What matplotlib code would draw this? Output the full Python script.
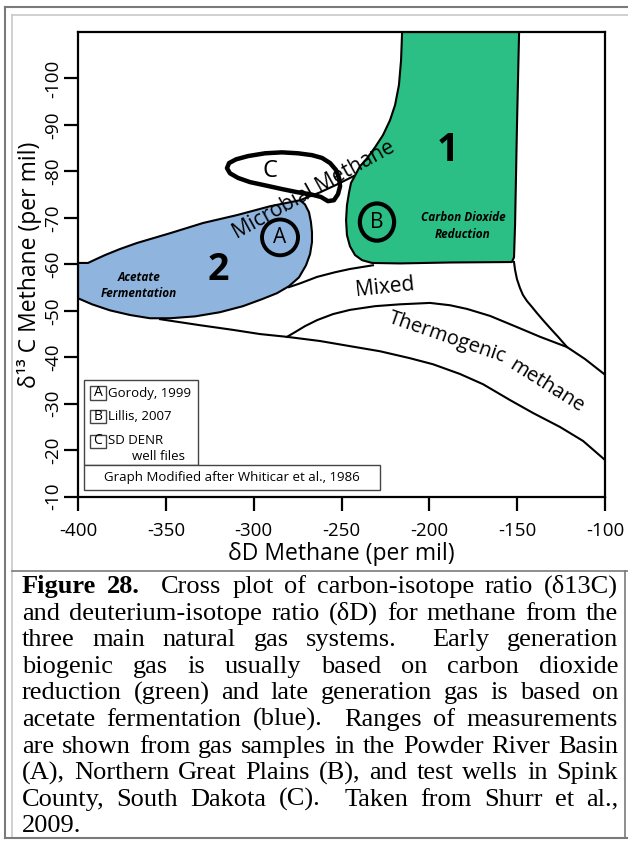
import matplotlib
matplotlib.use('Agg')
import matplotlib.pyplot as plt
from matplotlib.patches import Polygon, Ellipse, Rectangle
from matplotlib.lines import Line2D

plt.rcParams['font.family'] = ['Open Sans', 'DejaVu Sans']
plt.rcParams['axes.unicode_minus'] = False

W, H = 628, 842

# axis ticks (per mil)
DD_TICKS = [-400, -350, -300, -250, -200, -150, -100]
C13_TICKS = [-10, -20, -30, -40, -50, -60, -70, -80, -90, -100]

# field outlines, (dD, d13C) pairs
CO2_DD = [-215.5, -216.1, -217.3, -219.5, -222.4, -226.4, -230.9, -235.5, -239.5, -242.3,
          -244.6, -245.7, -246.9, -247.4, -246.9, -245.2, -242.3, -238.3, -232.6, -216.7,
          -188.2, -153.0, -151.8, -151.2, -150.1, -148.9]
CO2_C13 = [-110.0, -103.9, -98.6, -94.3, -91.0, -87.8, -85.2, -82.8, -81.1, -79.1,
           -77.5, -75.5, -72.7, -69.5, -66.3, -63.9, -62.0, -60.9, -60.3, -60.2,
           -60.4, -60.5, -61.5, -68.5, -90.0, -110.0]

ACET_DD = [-400.0, -394.3, -389.8, -384.6, -376.1, -366.4, -347.6, -328.8, -309.5, -290.7,
           -273.6, -270.8, -268.5, -267.4, -266.8, -266.8, -267.9, -270.2, -274.2, -279.9,
           -286.7, -295.3, -306.1, -319.2, -333.4, -347.6, -359.0, -370.4, -381.8, -392.0]
ACET_C13 = [-60.3, -60.3, -61.1, -62.0, -63.3, -64.6, -66.7, -68.9, -70.6, -72.5,
            -73.8, -72.9, -71.2, -69.1, -66.9, -64.8, -62.2, -59.8, -57.2, -55.3,
            -53.8, -52.5, -51.0, -49.7, -48.8, -48.4, -48.4, -49.1, -50.1, -51.4]
ACET_DD.append(-400.0)
ACET_C13.append(-52.7)

MICROBIAL_DD = [-273.6, -262.2, -252.5, -243.0]
MICROBIAL_C13 = [-73.8, -75.5, -77.2, -79.0]

MIXED_TOP_DD = [-279.9, -273.6, -263.9, -253.7, -245.2, -232.1]
MIXED_TOP_C13 = [-55.1, -55.9, -57.3, -58.3, -59.0, -59.8]

THERMO_LOW_DD = [-353.3, -330.5, -311.8, -296.4, -281.0, -262.2, -245.2, -228.1, -211.0,
                 -197.9, -182.5, -169.4, -154.1, -140.9, -125.6, -112.5, -100.0]
THERMO_LOW_C13 = [-48.2, -46.9, -45.9, -45.0, -44.4, -43.5, -42.4, -41.3, -39.8,
                  -38.5, -36.4, -34.2, -30.8, -28.0, -25.0, -22.0, -17.9]

THERMO_UP_DD = [-281.0, -276.5, -270.8, -263.9, -254.8, -245.2, -230.9, -216.7, -199.6,
                -188.2, -178.5, -165.4, -150.1, -136.9, -121.6, -111.3, -100.5]
THERMO_UP_C13 = [-44.4, -45.4, -46.7, -48.0, -49.3, -50.2, -51.0, -51.4, -51.7,
                 -51.2, -50.4, -48.9, -46.5, -44.4, -42.2, -39.6, -36.4]

RIGHT_DD = [-151.8, -151.2, -150.1, -148.4, -146.7, -144.4, -141.5, -138.7, -135.3,
            -131.3, -126.7, -121.6]
RIGHT_C13 = [-60.5, -58.8, -56.8, -54.9, -53.4, -52.1, -50.8, -49.5, -48.0,
             -46.3, -44.4, -42.2]

# range of SD DENR well samples (C)
WELLS_DD = [-315.2, -314.0, -310.0, -303.2, -293.5, -283.9, -274.8, -266.8, -261.1, -256.5,
            -253.1, -251.4, -250.8, -252.0, -254.3, -257.7, -261.7, -267.9, -274.8, -283.9,
            -293.5, -302.1, -308.9, -313.5]
WELLS_C13 = [-80.7, -81.8, -82.6, -83.3, -83.9, -84.1, -83.9, -83.5, -82.9, -81.8,
             -80.3, -78.6, -76.8, -75.1, -73.8, -73.6, -74.5, -75.1, -75.5, -76.2,
             -77.0, -77.7, -78.6, -79.6]

# data ranges A (Gorody) and B (Lillis): centre dD, centre d13C
RANGE_A = (-285.0, -65.8)
RANGE_B = (-229.8, -69.1)

LEGEND = [('A', 'Gorody, 1999'), ('B', 'Lillis, 2007'), ('C', 'SD DENR')]

CAPTION = [
    'Figure 28.  Cross plot of carbon-isotope ratio (δ13C)',
    'and deuterium-isotope ratio (δD) for methane from the',
    'three main natural gas systems.  Early generation',
    'biogenic gas is usually based on carbon dioxide',
    'reduction (green) and late generation gas is based on',
    'acetate fermentation (blue).  Ranges of measurements',
    'are shown from gas samples in the Powder River Basin',
    '(A), Northern Great Plains (B), and test wells in Spink',
    'County, South Dakota (C).  Taken from Shurr et al.,',
    '2009.',
]

GREEN = '#2bbe85'
BLUE = '#8fb4dd'


def fx(px):
    return px / W


def fy(py):
    return 1 - py / H


fig = plt.figure(figsize=(W / 100, H / 100), dpi=100)
ax = fig.add_axes([fx(78), fy(496.7), 527 / W, 464.7 / H])
ax.set_xlim(-400, -100)
ax.set_ylim(-10, -110)

ax.add_patch(Polygon(list(zip(CO2_DD, CO2_C13)), closed=True, fc=GREEN, ec='black',
                     lw=1.5, joinstyle='round', zorder=1))
ax.add_patch(Polygon(list(zip(ACET_DD, ACET_C13)), closed=True, fc=BLUE, ec='black',
                     lw=1.5, joinstyle='round', zorder=1))
for xs, ys in [(MICROBIAL_DD, MICROBIAL_C13), (MIXED_TOP_DD, MIXED_TOP_C13),
               (THERMO_LOW_DD, THERMO_LOW_C13), (THERMO_UP_DD, THERMO_UP_C13),
               (RIGHT_DD, RIGHT_C13)]:
    ax.plot(xs, ys, color='black', lw=1.5, solid_joinstyle='round', zorder=2)

ax.add_patch(Polygon(list(zip(WELLS_DD, WELLS_C13)), closed=True, fc='none', ec='black',
                     lw=3.2, joinstyle='round', zorder=3))
ax.add_patch(Ellipse(RANGE_A, 20.5, 7.7, fc='none', ec='black', lw=2.8, zorder=3))
ax.add_patch(Ellipse(RANGE_B, 19.5, 8.0, fc='none', ec='black', lw=3.0, zorder=3))
ax.text(RANGE_A[0], RANGE_A[1], 'A', fontsize=15, ha='center', va='center', zorder=4)
ax.text(RANGE_B[0], RANGE_B[1], 'B', fontsize=15, ha='center', va='center', zorder=4)
ax.text(-290.5, -80.0, 'C', fontsize=17, ha='center', va='center', zorder=4)

ax.text(-189.3, -84.5, '1', fontsize=28, fontweight='bold', ha='center', va='center')
ax.text(-320.3, -58.7, '2', fontsize=27, fontweight='bold', ha='center', va='center')
ax.text(-365.3, -55.5, 'Acetate\nFermentation', fontsize=8.5, fontweight='bold',
        style='italic', ha='center', va='center', linespacing=1.35)
ax.text(-180.8, -68.2, 'Carbon Dioxide\nReduction', fontsize=8.5, fontweight='bold',
        style='italic', ha='center', va='center', linespacing=1.35)
ax.text(-265.5, -76.0, 'Microbial Methane', fontsize=15, rotation=29,
        rotation_mode='anchor', ha='center', va='center', zorder=2)
ax.text(-225.2, -55.0, 'Mixed', fontsize=15, rotation=6,
        rotation_mode='anchor', ha='center', va='center')
ax.text(-190.0, -44.3, 'Thermogenic', fontsize=14.5, rotation=-19,
        rotation_mode='anchor', ha='center', va='center')
ax.text(-133.0, -33.9, 'methane', fontsize=14.5, rotation=-32,
        rotation_mode='anchor', ha='center', va='center')

for side in ax.spines.values():
    side.set_linewidth(1.6)
ax.set_xticks(DD_TICKS)
ax.set_xticklabels([str(v) for v in DD_TICKS])
ax.set_yticks(C13_TICKS)
ax.set_yticklabels([str(v) for v in C13_TICKS])
ax.tick_params(axis='both', direction='out', length=10, width=1.6, labelsize=13.5)
ax.tick_params(axis='x', pad=8)
ax.tick_params(axis='y', pad=1, labelrotation=90)
for lab in ax.get_yticklabels():
    lab.set_va('center')
ax.set_xlabel('δD Methane (per mil)', fontsize=16.5, labelpad=2)
ax.set_ylabel('δ¹³ C Methane (per mil)', fontsize=16.5)
ax.yaxis.set_label_coords(-0.068, 0.5)

# reference key in the lower left corner
box_ec = '#444444'
fig.add_artist(Rectangle((fx(84), fy(465)), 114 / W, 85 / H, transform=fig.transFigure,
                         fc='white', ec=box_ec, lw=1))
fig.add_artist(Rectangle((fx(84), fy(490)), 296 / W, 25 / H, transform=fig.transFigure,
                         fc='white', ec=box_ec, lw=1))
for i, (key, ref) in enumerate(LEGEND):
    cy = 393 + i * 24
    fig.add_artist(Rectangle((fx(90), fy(cy + 6.5)), 16 / W, 13 / H, transform=fig.transFigure,
                             fc='none', ec=box_ec, lw=1))
    fig.text(fx(98), fy(cy), key, fontsize=10, ha='center', va='center')
    fig.text(fx(108), fy(cy), ref, fontsize=9.5, ha='left', va='center')
fig.text(fx(158), fy(457), 'well files', fontsize=9.5, ha='center', va='center')
fig.text(fx(232), fy(478), 'Graph Modified after Whiticar et al., 1986', fontsize=9.5,
         ha='center', va='center')

# page frame
dark, light = '#7a7a7a', '#c8c8c8'
for (x0, y0, x1, y1, c, lw) in [(5, 7, 628, 7, dark, 1.5), (5, 7, 5, 838, dark, 1.5),
                                (12, 15, 628, 15, light, 1.2), (12, 15, 12, 838, light, 1.2),
                                (12, 571, 628, 571, dark, 1.2), (5, 838, 628, 838, dark, 1.5),
                                (625, 571, 625, 838, dark, 1.2)]:
    fig.add_artist(Line2D([fx(x0), fx(x1)], [fy(y0), fy(y1)], transform=fig.transFigure,
                          color=c, lw=lw))

# justified caption
renderer = fig.canvas.get_renderer()
left, right = 22, 618
for i, line in enumerate(CAPTION):
    base = fy(593 + i * 26.6)
    words = line.split(' ')
    texts = []
    for j, w in enumerate(words):
        bold = i == 0 and j < 2
        texts.append(fig.text(0, base, w, fontsize=19, family='Liberation Serif',
                              fontweight='bold' if bold else 'normal', va='baseline'))
    widths = [t.get_window_extent(renderer).width if t.get_text() else 0 for t in texts]
    gap = (right - left - sum(widths)) / max(len(words) - 1, 1)
    if i == len(CAPTION) - 1:
        gap = 5
    x = left
    for t, w in zip(texts, widths):
        t.set_x(fx(x))
        x += w + gap

fig.savefig('out.png', dpi=100)
